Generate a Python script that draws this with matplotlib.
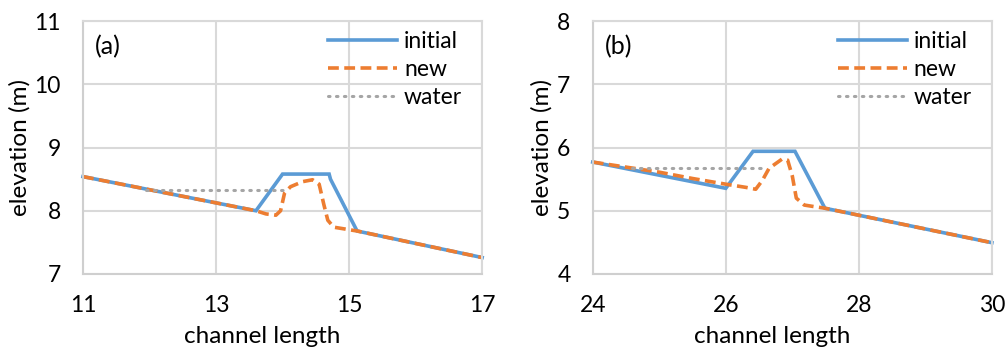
import matplotlib
matplotlib.use("Agg")
import matplotlib.pyplot as plt

plt.rcParams['font.family'] = ['Lato', 'DejaVu Sans']

# Panel (a)
a_init_x = [11, 13.6, 14.0, 14.7, 14.72, 15.12, 17]
a_init_y = [8.54, 8.0, 8.58, 8.58, 8.5, 7.68, 7.26]
a_new_x = [11, 13.6, 13.75, 13.9, 13.97, 14.03, 14.12, 14.3, 14.45, 14.55, 14.62, 14.68, 14.77, 15.12, 17]
a_new_y = [8.54, 8.0, 7.95, 7.93, 8.0, 8.28, 8.38, 8.46, 8.49, 8.42, 8.1, 7.85, 7.74, 7.68, 7.26]
a_water_x = [11.95, 14.06]
a_water_y = [8.33, 8.33]

# Panel (b)
b_init_x = [24, 26.0, 26.41, 27.04, 27.49, 30]
b_init_y = [5.77, 5.355, 5.94, 5.94, 5.04, 4.495]
b_new_x = [24, 24.5, 25.0, 25.5, 26.0, 26.3, 26.45, 26.55, 26.65, 26.85, 26.93, 27.0, 27.06, 27.18, 27.3, 27.49, 30]
b_new_y = [5.77, 5.69, 5.61, 5.51, 5.42, 5.37, 5.34, 5.48, 5.67, 5.82, 5.8, 5.55, 5.2, 5.09, 5.07, 5.04, 4.495]
b_water_x = [24.59, 26.59]
b_water_y = [5.68, 5.68]

panels = [
    dict(label='(a)', init=(a_init_x, a_init_y), new=(a_new_x, a_new_y), water=(a_water_x, a_water_y),
         xlim=(11, 17), xticks=[11, 13, 15, 17], ylim=(7, 11), yticks=[7, 8, 9, 10, 11]),
    dict(label='(b)', init=(b_init_x, b_init_y), new=(b_new_x, b_new_y), water=(b_water_x, b_water_y),
         xlim=(24, 30), xticks=[24, 26, 28, 30], ylim=(4, 8), yticks=[4, 5, 6, 7, 8]),
]

BLUE = '#5b9bd5'
ORANGE = '#ed7d31'
GRAY = '#a5a5a5'
GRID = '#d9d9d9'

fig = plt.figure(figsize=(10.07, 3.49), dpi=100)
lefts = [0.0824, 0.5886]
for p, left in zip(panels, lefts):
    ax = fig.add_axes([left, 0.2149, 0.3964, 0.7249])
    ax.plot(*p['init'], color=BLUE, lw=2.6, label='initial', solid_joinstyle='miter', clip_on=False)
    ax.plot(*p['new'], color=ORANGE, lw=2.6, ls=(0, (3.0, 1.5)), label='new', clip_on=False)
    ax.plot(*p['water'], color=GRAY, lw=2.2, ls=(0, (0.5, 2.1)), dash_capstyle='round', label='water')
    ax.set_xlim(*p['xlim'])
    ax.set_ylim(*p['ylim'])
    ax.set_xticks(p['xticks'])
    ax.set_yticks(p['yticks'])
    ax.grid(True, color=GRID, lw=1.5)
    ax.set_axisbelow(True)
    for s in ax.spines.values():
        s.set_color(GRID)
        s.set_linewidth(1.5)
    ax.spines['left'].set_color('#cfcfcf')
    ax.spines['bottom'].set_color('#cfcfcf')
    ax.tick_params(length=0, labelsize=16.5, colors='black')
    ax.tick_params(axis='y', pad=16)
    ax.tick_params(axis='x', pad=15)
    ax.set_xlabel('channel length', fontsize=17.5, labelpad=7, x=0.45)
    ax.set_ylabel('elevation (m)', fontsize=17.5, labelpad=3)
    ax.text(0.03, 0.897, p['label'], transform=ax.transAxes, fontsize=18, va='center', ha='left')
    ax.legend(loc='upper left', bbox_to_anchor=(0.615, 0.96), frameon=False, fontsize=16.5,
              handlelength=3.0, handletextpad=0.3, labelspacing=0.3, borderpad=0, borderaxespad=0)

fig.savefig('out.png', dpi=100)
